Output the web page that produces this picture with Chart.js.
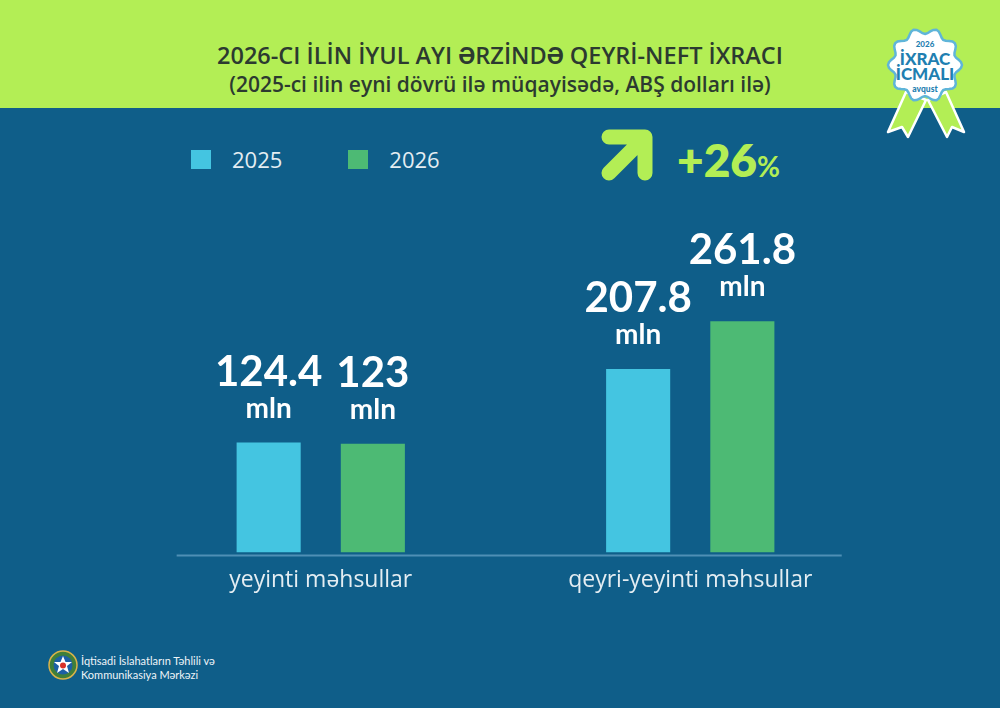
<!DOCTYPE html>
<html lang="az">
<head>
<meta charset="utf-8">
<title>Qeyri-neft ixracı</title>
<script src="https://cdn.jsdelivr.net/npm/chart.js@4/dist/chart.umd.min.js"></script>
<style>
  html, body { margin: 0; padding: 0; }
  body { width: 1000px; height: 708px; background: #0f5e89; position: relative; overflow: hidden; font-family: Lato, "Noto Sans", sans-serif; }
  #header { position: absolute; left: 0; top: 0; width: 1000px; height: 108px; background: #b3ee55; }
  #title { position: absolute; left: 0; top: 39px; width: 1000px; text-align: center; font-family: "Open Sans", sans-serif; font-size: 23.5px; font-weight: 600; color: #2c3a30; }
  #subtitle { position: absolute; left: 0; top: 70px; width: 1000px; text-align: center; font-family: "Open Sans", sans-serif; font-size: 21px; font-weight: 600; color: #2c3a30; }
  #legend { position: absolute; left: 191px; top: 144px; display: flex; }
  .leg-item { display: flex; align-items: center; margin-right: 66px; }
  .leg-box { width: 20px; height: 19px; margin-right: 21px; }
  .leg-text { font-family: "Open Sans", sans-serif; font-size: 22px; color: #e4edf2; }
  #growth { position: absolute; left: 677px; top: 132px; color: #b3ee55; font-weight: 800; font-size: 46px; }
  #growth small { font-size: 28px; font-weight: 700; }
  #arrow { position: absolute; left: 596px; top: 126px; }
  #badge { position: absolute; left: 870px; top: 10px; }
  #chartWrap { position: absolute; left: 0; top: 108px; width: 1000px; height: 503px; }
  #logo { position: absolute; left: 47px; top: 649px; }
  #logoText { position: absolute; left: 81px; top: 654px; font-size: 11px; line-height: 14px; color: #eef4f8; }
</style>
</head>
<body>
<div id="header"></div>
<div id="title">2026-CI İLİN İYUL AYI ƏRZİNDƏ QEYRİ-NEFT İXRACI</div>
<div id="subtitle">(2025-ci ilin eyni dövrü ilə müqayisədə, ABŞ dolları ilə)</div>

<svg id="badge" width="120" height="130" viewBox="0 0 120 130">
  <path d="M36 82 L56 90 L38 127 L32 117 L18 122 Z" fill="#b3ee55" stroke="#ffffff" stroke-width="2.5" stroke-linejoin="round"/>
  <path d="M58 90 L76 82 L94 122 L82 117 L77 127 Z" fill="#b3ee55" stroke="#ffffff" stroke-width="2.5" stroke-linejoin="round"/>
  <path id="scallop" fill="#ffffff" stroke="#5fb5d9" stroke-width="2.5"/>
  <text x="55" y="37" text-anchor="middle" font-family="Lato" font-weight="900" font-size="8" fill="#1f7fb1">2026</text>
  <text x="55" y="55" text-anchor="middle" font-family="Lato" font-weight="900" font-size="17" fill="#1f7fb1">İXRAC</text>
  <text x="55" y="70" text-anchor="middle" font-family="Lato" font-weight="900" font-size="17" fill="#1f7fb1">İCMALI</text>
  <text x="55" y="82" text-anchor="middle" font-family="Lato" font-weight="900" font-size="8.5" fill="#1f7fb1">avqust</text>
</svg>

<div id="legend"></div>

<svg id="arrow" width="64" height="60" viewBox="0 0 64 60">
  <path d="M13 11 L49 11 L49 47 M49 11 L13 47" fill="none" stroke="#b3ee55" stroke-width="15" stroke-linecap="round" stroke-linejoin="round"/>
</svg>
<div id="growth">+26<small>%</small></div>

<div id="chartWrap"><canvas id="grafico" width="1000" height="503"></canvas></div>

<svg id="logo" width="32" height="34" viewBox="0 0 32 34">
  <circle cx="16" cy="16" r="14" fill="#3f7f3a" stroke="#d9b34a" stroke-width="1.5"/>
  <circle cx="16" cy="16" r="9.5" fill="#1c5fa5"/>
  <polygon points="16,7 18.5,13 25,13 20,17 22,24 16,20 10,24 12,17 7,13 13.5,13" fill="#ffffff"/>
  <circle cx="16" cy="16.5" r="3" fill="#d8322a"/>
</svg>
<div id="logoText">İqtisadi İslahatların Təhlili və<br>Kommunikasiya Mərkəzi</div>

<script>
// Dados do gráfico
const categorias = ['yeyinti məhsullar', 'qeyri-yeyinti məhsullar'];
const anos = ['2025', '2026'];
const valores2025 = [124.4, 207.8];
const valores2026 = [123, 261.8];
const unidade = 'mln';
const cores = ['#44c5e1', '#4dba74'];

// Selo com bordas onduladas
(function () {
  const cx = 55, cy = 55, n = 10;
  let d = '';
  for (let i = 0; i <= n * 8; i++) {
    const a = (i / (n * 8)) * Math.PI * 2 - Math.PI / 2;
    const r = 34 + 3 * Math.cos(a * n);
    const x = cx + r * Math.cos(a), y = cy + r * Math.sin(a);
    d += (i === 0 ? 'M' : 'L') + x.toFixed(1) + ' ' + y.toFixed(1) + ' ';
  }
  document.getElementById('scallop').setAttribute('d', d + 'Z');
})();

// Legenda em HTML
const legenda = document.getElementById('legend');
anos.forEach(function (ano, i) {
  const item = document.createElement('div');
  item.className = 'leg-item';
  item.innerHTML = '<div class="leg-box" style="background:' + cores[i] + '"></div><span class="leg-text">' + ano + '</span>';
  legenda.appendChild(item);
});

// Linha de base sob as barras
const linhaBase = {
  id: 'linhaBase',
  beforeDatasetsDraw(chart) {
    const x = chart.scales.x, y = chart.scales.y;
    const passo = x.getPixelForValue(1) - x.getPixelForValue(0);
    const y0 = y.getPixelForValue(0) + 3;
    const ctx = chart.ctx;
    ctx.save();
    ctx.strokeStyle = '#4f8fb5';
    ctx.lineWidth = 2;
    ctx.beginPath();
    ctx.moveTo(x.getPixelForValue(0) - passo * 0.39, y0);
    ctx.lineTo(x.getPixelForValue(1) + passo * 0.41, y0);
    ctx.stroke();
    ctx.restore();
  }
};

// Rótulos de valor acima das barras
const rotulos = {
  id: 'rotulos',
  afterDatasetsDraw(chart) {
    const ctx = chart.ctx;
    ctx.save();
    ctx.fillStyle = '#ffffff';
    ctx.textAlign = 'center';
    ctx.textBaseline = 'alphabetic';
    chart.data.datasets.forEach(function (ds, di) {
      chart.getDatasetMeta(di).data.forEach(function (bar, i) {
        ctx.font = '700 42px Lato';
        ctx.fillText(String(ds.data[i]), bar.x, bar.y - 57);
        ctx.font = '700 28px Lato';
        ctx.fillText(unidade, bar.x, bar.y - 25);
      });
    });
    ctx.restore();
  }
};

new Chart(document.getElementById('grafico'), {
  type: 'bar',
  data: {
    labels: categorias,
    datasets: [
      { label: anos[0], data: valores2025, backgroundColor: cores[0] },
      { label: anos[1], data: valores2026, backgroundColor: cores[1] }
    ]
  },
  options: {
    responsive: false,
    animation: false,
    categoryPercentage: 0.564,
    barPercentage: 0.615,
    layout: { padding: { top: 100, left: 136, right: 125, bottom: 11 } },
    scales: {
      x: {
        grid: { display: false },
        border: { display: false },
        ticks: { color: '#e4edf2', font: { family: 'Open Sans', size: 23 }, padding: 6 }
      },
      y: { display: false, min: 0, max: 390 }
    },
    plugins: {
      legend: { display: false },
      tooltip: { enabled: false }
    }
  },
  plugins: [linhaBase, rotulos]
});
</script>
</body>
</html>
